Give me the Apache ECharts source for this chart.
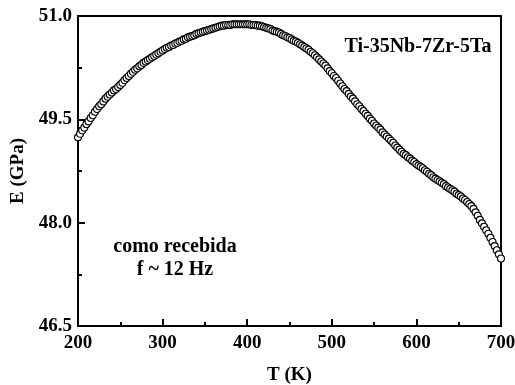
<!DOCTYPE html>
<html>
<head>
<meta charset="utf-8">
<script src="https://cdn.jsdelivr.net/npm/echarts@6/dist/echarts.min.js"></script>
<style>html,body{margin:0;padding:0;background:#fff}#c{width:515px;height:385px}</style>
</head>
<body>
<div id="c"></div>
<script>
var temperature = [
200,202.5,205,207.5,210,212.5,215,217.5,220,222.5,225,227.5,230,232.5,235,237.5,240,242.5,245,247.5,
250,252.5,255,257.5,260,262.5,265,267.5,270,272.5,275,277.5,280,282.5,285,287.5,290,292.5,295,297.5,
300,302.5,305,307.5,310,312.5,315,317.5,320,322.5,325,327.5,330,332.5,335,337.5,340,342.5,345,347.5,
350,352.5,355,357.5,360,362.5,365,367.5,370,372.5,375,377.5,380,382.5,385,387.5,390,392.5,395,397.5,
400,402.5,405,407.5,410,412.5,415,417.5,420,422.5,425,427.5,430,432.5,435,437.5,440,442.5,445,447.5,
450,452.5,455,457.5,460,462.5,465,467.5,470,472.5,475,477.5,480,482.5,485,487.5,490,492.5,495,497.5,
500,502.5,505,507.5,510,512.5,515,517.5,520,522.5,525,527.5,530,532.5,535,537.5,540,542.5,545,547.5,
550,552.5,555,557.5,560,562.5,565,567.5,570,572.5,575,577.5,580,582.5,585,587.5,590,592.5,595,597.5,
600,602.5,605,607.5,610,612.5,615,617.5,620,622.5,625,627.5,630,632.5,635,637.5,640,642.5,645,647.5,
650,652.5,655,657.5,660,662.5,665,667.5,670,672.5,675,677.5,680,682.5,685,687.5,690,692.5,695,697.5,
700
];
var modulus = [
49.24,49.29,49.34,49.38,49.43,49.47,49.52,49.56,49.61,49.65,49.69,49.72,49.76,49.80,49.83,49.86,49.89,49.92,49.94,49.97,
50.00,50.03,50.07,50.10,50.13,50.16,50.19,50.22,50.24,50.27,50.29,50.32,50.34,50.36,50.38,50.40,50.42,50.44,50.46,50.48,
50.50,50.52,50.54,50.55,50.57,50.58,50.60,50.61,50.63,50.64,50.66,50.67,50.69,50.70,50.71,50.72,50.74,50.75,50.76,50.77,
50.78,50.79,50.80,50.81,50.82,50.83,50.84,50.85,50.86,50.86,50.87,50.87,50.87,50.88,50.88,50.88,50.88,50.88,50.88,50.88,
50.88,50.88,50.87,50.87,50.87,50.86,50.86,50.85,50.84,50.83,50.82,50.81,50.79,50.78,50.77,50.76,50.74,50.72,50.71,50.69,
50.68,50.66,50.64,50.63,50.61,50.59,50.57,50.55,50.53,50.51,50.48,50.46,50.43,50.40,50.37,50.34,50.31,50.28,50.24,50.20,
50.17,50.13,50.10,50.06,50.02,49.98,49.94,49.91,49.87,49.83,49.80,49.76,49.72,49.69,49.65,49.62,49.58,49.55,49.51,49.48,
49.44,49.41,49.38,49.35,49.31,49.28,49.25,49.22,49.19,49.16,49.12,49.09,49.06,49.03,49.00,48.98,48.95,48.93,48.90,48.88,
48.85,48.83,48.81,48.79,48.76,48.74,48.71,48.69,48.66,48.64,48.62,48.60,48.58,48.56,48.53,48.51,48.49,48.47,48.45,48.42,
48.40,48.38,48.35,48.33,48.30,48.27,48.24,48.20,48.15,48.10,48.04,47.99,47.94,47.89,47.84,47.78,47.72,47.66,47.60,47.54,
47.48
];
var xTicks = [200, 300, 400, 500, 600, 700];
var yTicks = [46.5, 48.0, 49.5, 51.0];
var alloyLabel = 'Ti-35Nb-7Zr-5Ta';
var conditionLines = ['como recebida', 'f ~ 12 Hz'];
var xName = 'T (K)';
var yName = 'E (GPa)';

var FONT = '"Liberation Serif", "Times New Roman", serif';
var chart = echarts.init(document.getElementById('c'), null, {renderer: 'canvas'});
var pts = temperature.map(function (t, i) { return [t, modulus[i]]; });
var axisTxt = {color: '#000', fontFamily: FONT, fontWeight: 'bold', fontSize: 19};
chart.setOption({
  animation: false,
  backgroundColor: '#fff',
  grid: {left: 78, right: 14, top: 16, bottom: 59, containLabel: false, outerBoundsMode: 'none',
    show: true, borderColor: '#000', borderWidth: 2, backgroundColor: 'transparent'},
  xAxis: {
    type: 'value', min: xTicks[0], max: xTicks[xTicks.length - 1], interval: 100,
    name: xName, nameLocation: 'middle', nameGap: 40, nameTextStyle: axisTxt,
    axisLine: {show: true, lineStyle: {color: '#000', width: 2}},
    axisTick: {show: true, inside: true, length: 7, lineStyle: {color: '#000', width: 2}},
    minorTick: {show: true, splitNumber: 2, length: 4, lineStyle: {color: '#000', width: 2}},
    splitLine: {show: false},
    axisLabel: {margin: 8, color: '#000', fontFamily: FONT, fontWeight: 'bold', fontSize: 19,
      formatter: function (v) { return String(Math.round(v)); }}
  },
  yAxis: {
    type: 'value', min: yTicks[0], max: yTicks[yTicks.length - 1], interval: 1.5,
    name: yName, nameLocation: 'middle', nameGap: 42, nameTextStyle: axisTxt,
    axisLine: {show: true, lineStyle: {color: '#000', width: 2}},
    axisTick: {show: true, inside: true, length: 7, lineStyle: {color: '#000', width: 2}},
    minorTick: {show: true, splitNumber: 2, length: 4, lineStyle: {color: '#000', width: 2}},
    splitLine: {show: false},
    axisLabel: {margin: 6, color: '#000', fontFamily: FONT, fontWeight: 'bold', fontSize: 19,
      formatter: function (v) { return v.toFixed(1); }}
  },
  series: [{
    type: 'scatter', data: pts, symbol: 'circle', symbolSize: 7,
    itemStyle: {color: '#fff', borderColor: '#000', borderWidth: 1.1, opacity: 1},
    emphasis: {disabled: true}
  }],
  graphic: [
    {type: 'text', style: {text: alloyLabel, x: 418, y: 47, textAlign: 'center', textVerticalAlign: 'middle', fill: '#000', font: 'bold 20px ' + FONT}},
    {type: 'text', style: {text: conditionLines[0], x: 175, y: 247, textAlign: 'center', textVerticalAlign: 'middle', fill: '#000', font: 'bold 20px ' + FONT}},
    {type: 'text', style: {text: conditionLines[1], x: 175, y: 270, textAlign: 'center', textVerticalAlign: 'middle', fill: '#000', font: 'bold 20px ' + FONT}}
  ]
});
</script>
</body>
</html>
